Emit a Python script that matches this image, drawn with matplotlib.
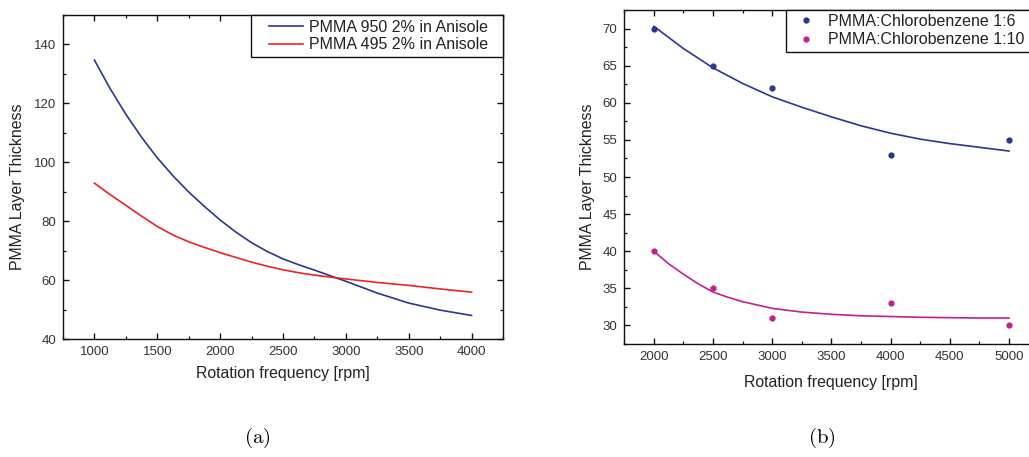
import matplotlib
matplotlib.use("Agg")
import matplotlib.pyplot as plt
from matplotlib.ticker import MultipleLocator
from matplotlib.patches import Rectangle

plt.rcParams['font.family'] = ['Liberation Sans', 'DejaVu Sans']
plt.rcParams['mathtext.fontset'] = 'cm'

# ---- panel (a) data ----
rpm_a = [1000, 1125, 1250, 1375, 1500, 1625, 1750, 1875, 2000, 2125, 2250, 2375,
         2500, 2625, 2750, 2875, 3000, 3250, 3500, 3750, 4000]
pmma950 = [134.7, 125.0, 116.3, 108.5, 101.5, 95.4, 89.9, 85.0, 80.4, 76.3, 72.7, 69.7,
           67.2, 65.2, 63.4, 61.5, 59.6, 55.6, 52.2, 49.8, 48.0]
pmma495 = [92.9, 89.0, 85.4, 81.7, 78.2, 75.3, 73.0, 71.1, 69.3, 67.7, 66.1, 64.7,
           63.5, 62.5, 61.7, 61.0, 60.4, 59.2, 58.2, 57.0, 55.9]
labels_a = ['PMMA 950 2% in Anisole', 'PMMA 495 2% in Anisole']

# ---- panel (b) data ----
rpm_pts = [2000, 2500, 3000, 4000, 5000]
cb16_pts = [70, 65, 62, 53, 55]
cb110_pts = [40, 35, 31, 33, 30]
rpm_fit16 = [2000, 2250, 2500, 2750, 3000, 3250, 3500, 3750, 4000, 4250, 4500, 4750, 5000]
cb16_fit = [70.3, 67.3, 64.7, 62.6, 60.8, 59.4, 58.1, 56.9, 55.9, 55.1, 54.5, 54.0, 53.5]
rpm_fit110 = [2000, 2125, 2250, 2375, 2500, 2625, 2750, 3000, 3250, 3500, 3750, 4000,
              4250, 4500, 4750, 5000]
cb110_fit = [40.0, 38.3, 36.9, 35.6, 34.5, 33.8, 33.2, 32.3, 31.8, 31.5, 31.3, 31.2,
             31.1, 31.05, 31.0, 31.0]
labels_b = ['PMMA:Chlorobenzene 1:6', 'PMMA:Chlorobenzene 1:10']

BLUE = '#2b3592'
RED = '#ec2228'
MAGENTA = '#c2208e'
TICKC = '#333333'
TXT = '#222222'

W, H = 1029, 457
fig = plt.figure(figsize=(W / 100, H / 100), dpi=100)

def px_axes(l, r, t, b):
    return fig.add_axes([l / W, (H - b) / H, (r - l) / W, (b - t) / H])

def style(ax):
    for s in ax.spines.values():
        s.set_linewidth(1.0)
        s.set_color('#111111')
    ax.tick_params(which='both', direction='in', top=True, right=True,
                   labelsize=9.5, labelcolor=TICKC, color='#111111')
    ax.tick_params(which='major', length=4, width=1.0, pad=5)
    ax.tick_params(which='minor', length=2.2, width=0.9)

def frame_box(l, r, t, b):
    fig.patches.append(Rectangle((l / W, 1 - b / H), (r - l) / W, (b - t) / H,
                                 transform=fig.transFigure, fill=True,
                                 facecolor='white', edgecolor='#111111',
                                 linewidth=1.0, zorder=5))

# panel (a)
ax1 = px_axes(63, 503, 15, 339)
ax1.plot(rpm_a, pmma950, color=BLUE, lw=1.2, label=labels_a[0])
ax1.plot(rpm_a, pmma495, color=RED, lw=1.2, label=labels_a[1])
ax1.set_xlim(750, 4250)
ax1.set_ylim(40, 150)
ax1.xaxis.set_minor_locator(MultipleLocator(250))
ax1.yaxis.set_minor_locator(MultipleLocator(10))
ax1.set_xticks([1000, 1500, 2000, 2500, 3000, 3500, 4000])
ax1.set_yticks([40, 60, 80, 100, 120, 140])
style(ax1)
ax1.set_xlabel('Rotation frequency [rpm]', fontsize=11.4, color=TXT)
ax1.set_ylabel('PMMA Layer Thickness', fontsize=11.4, color=TXT)
ax1.xaxis.label.set_va('center')
ax1.yaxis.label.set_va('center')
ax1.xaxis.set_label_coords(0.5, -0.105)
ax1.yaxis.set_label_coords(-0.1045, 0.47)

# panel (b)
ax2 = px_axes(624.3, 1038.6, 10, 344)
ax2.plot(rpm_fit16, cb16_fit, color=BLUE, lw=1.2)
ax2.plot(rpm_fit110, cb110_fit, color=MAGENTA, lw=1.2)
ax2.plot(rpm_pts, cb16_pts, 'o', color=BLUE, ms=3.5, label=labels_b[0])
ax2.plot(rpm_pts, cb110_pts, 'o', color=MAGENTA, ms=3.5, label=labels_b[1])
ax2.set_xlim(1750, 5250)
ax2.set_ylim(27.5, 72.5)
ax2.xaxis.set_minor_locator(MultipleLocator(250))
ax2.yaxis.set_minor_locator(MultipleLocator(2.5))
ax2.set_xticks([2000, 2500, 3000, 3500, 4000, 4500, 5000])
ax2.set_yticks([30, 35, 40, 45, 50, 55, 60, 65, 70])
style(ax2)
ax2.set_xlabel('Rotation frequency [rpm]', fontsize=11.4, color=TXT)
ax2.set_ylabel('PMMA Layer Thickness', fontsize=11.4, color=TXT)
ax2.xaxis.label.set_va('center')
ax2.yaxis.label.set_va('center')
ax2.xaxis.set_label_coords(0.499, -0.114)
ax2.yaxis.set_label_coords(-0.09, 0.47)

# legends: frames drawn explicitly, entries via legend without frame
frame_box(251, 503, 15, 57)
frame_box(786, 1045, 10, 52)

leg1 = fig.legend(*ax1.get_legend_handles_labels(), loc='upper left',
                  bbox_to_anchor=(269 / W, 1 - 19.5 / H), bbox_transform=fig.transFigure,
                  frameon=False, borderpad=0, borderaxespad=0, fontsize=11.5,
                  handlelength=2.1, handletextpad=0.38, labelspacing=0.17)
leg1.set_zorder(6)
leg2 = fig.legend(*ax2.get_legend_handles_labels(), loc='upper left',
                  bbox_to_anchor=(795 / W, 1 - 14 / H), bbox_transform=fig.transFigure,
                  frameon=False, borderpad=0, borderaxespad=0, fontsize=11.5,
                  handlelength=1.4, handletextpad=0.68, labelspacing=0.2, numpoints=1)
leg2.set_zorder(6)
for lg in (leg1, leg2):
    for t in lg.get_texts():
        t.set_color(TXT)

fig.text(257 / W, 1 - 438 / H, r'$\mathrm{(a)}$', fontsize=15, ha='center', va='center')
fig.text(822 / W, 1 - 438 / H, r'$\mathrm{(b)}$', fontsize=15, ha='center', va='center')

fig.savefig('out.png', dpi=100)
